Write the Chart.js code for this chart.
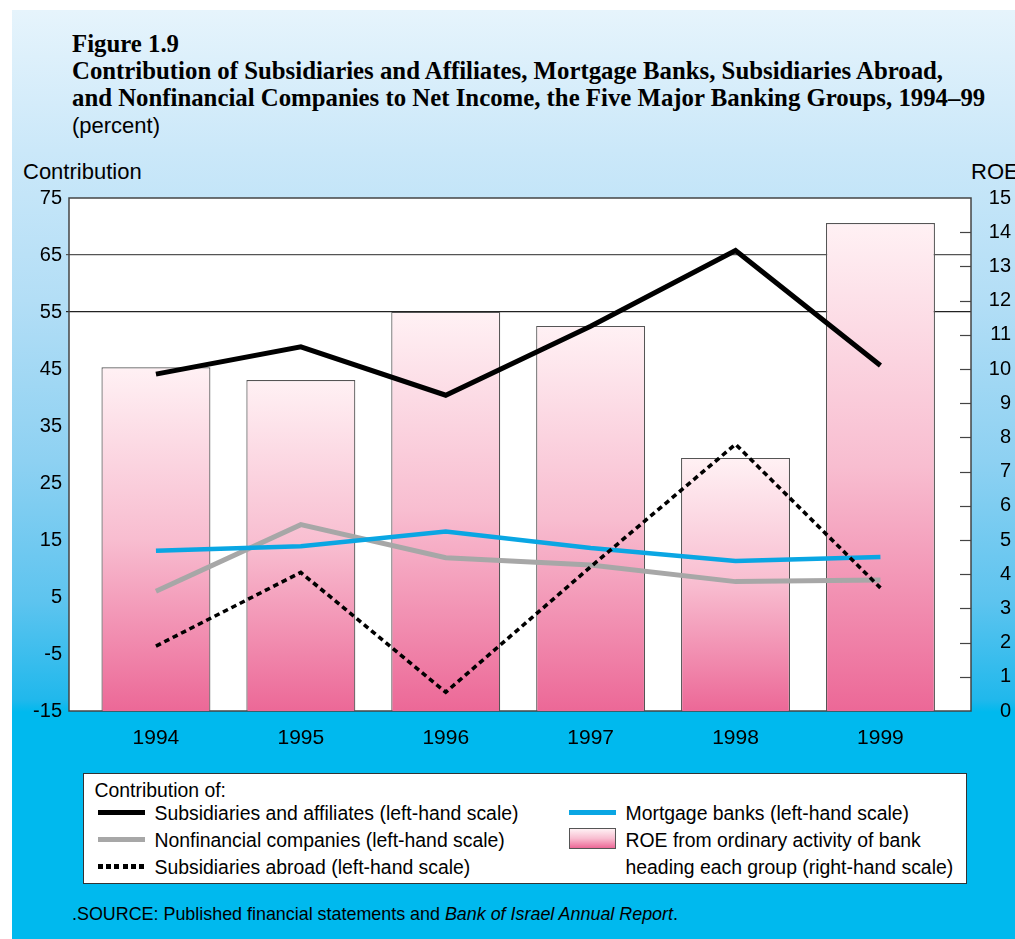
<!DOCTYPE html>
<html>
<head>
<meta charset="utf-8">
<script src="https://cdn.jsdelivr.net/npm/chart.js@4/dist/chart.umd.min.js"></script>
<style>
    body { margin: 0; background: #ffffff; }
    #page { position: relative; width: 1015px; height: 939px; overflow: hidden; font-family: "Liberation Sans", Arial, sans-serif; }
    #panel {
        position: absolute; left: 12px; top: 10px; right: 0; bottom: 0;
        background: linear-gradient(to bottom, #e6f4fc 0px, #cbe8f9 140px, #b3def6 290px, #8ed1f2 450px, #5ec4ef 590px, #20b8ec 690px, #00b9ee 702px, #00b9ee 100%);
    }
    .txt { position: absolute; white-space: nowrap; color: #000; }
    #title { left: 72px; top: 30px; font-family: "Liberation Serif", "Times New Roman", serif; font-weight: bold; font-size: 24.8px; line-height: 27px; }
    #legend { position: absolute; left: 83px; top: 773px; width: 882px; height: 109px; background: #fff; border: 1.5px solid #333; }
    .sw { position: absolute; }
</style>
</head>
<body>
<div id="page">
    <div id="panel"></div>
    <div id="title" class="txt">Figure 1.9<br>Contribution of Subsidiaries and Affiliates, Mortgage Banks, Subsidiaries Abroad,<br>and Nonfinancial Companies to Net Income, the Five Major Banking Groups, 1994–99</div>
    <div class="txt" style="left:72px; top:115px; font-size:22px; line-height:22px;">(percent)</div>
    <div class="txt" style="left:23px; top:161px; font-size:22px; line-height:22px;">Contribution</div>
    <div class="txt" style="left:971px; top:161px; font-size:22px; line-height:22px;">ROE</div>
    <canvas id="chart" width="1015" height="761" style="position:absolute; left:0; top:0;"></canvas>
    <div id="legend"></div>
    <div class="txt" style="left:72px; top:904px; font-size:17.9px; line-height:20px;">.SOURCE: Published financial statements and <i>Bank of Israel Annual Report</i>.</div>
</div>
<script>
var years = ['1994', '1995', '1996', '1997', '1998', '1999'];
// left-hand scale, contribution (percent)
var subsidiariesAffiliates = [44.1, 48.9, 40.4, 52.5, 65.8, 45.6];
var mortgageBanks = [13.1, 13.9, 16.5, 13.6, 11.3, 12.0];
var nonfinancialCompanies = [6.0, 17.7, 11.9, 10.6, 7.7, 8.0];
var subsidiariesAbroad = [-3.6, 9.3, -11.7, 10.3, 31.8, 6.6];
// right-hand scale, ROE of bank heading each group
var roe = [10.05, 9.68, 11.67, 11.26, 7.40, 14.27];
var leftTicks = [-15, -5, 5, 15, 25, 35, 45, 55, 65, 75];
var rightTicks = [0, 1, 2, 3, 4, 5, 6, 7, 8, 9, 10, 11, 12, 13, 14, 15];

function points(values) {
    return values.map(function (v, i) { return { x: i, y: v }; });
}

function barGradient(ctx) {
    var chart = ctx.chart;
    var area = chart.chartArea;
    if (!area || ctx.type !== 'data') {
        return '#f5a9c3';
    }
    var top = chart.scales.roe.getPixelForValue(ctx.parsed.y);
    var g = chart.ctx.createLinearGradient(0, top, 0, area.bottom);
    g.addColorStop(0, '#fff1f4');
    g.addColorStop(0.5, '#f8bdd0');
    g.addColorStop(1, '#ec6897');
    return g;
}

var plotFrame = {
    id: 'plotFrame',
    beforeDraw: function (chart) {
        var a = chart.chartArea, c = chart.ctx;
        c.save();
        c.fillStyle = '#ffffff';
        c.fillRect(a.left, a.top, a.right - a.left, a.bottom - a.top);
        c.restore();
    },
    beforeDatasetsDraw: function (chart) {
        var a = chart.chartArea, c = chart.ctx, s = chart.scales.roe;
        c.save();
        c.strokeStyle = '#444';
        c.lineWidth = 1.5;
        c.strokeRect(a.left, a.top, a.right - a.left, a.bottom - a.top);
        // right-hand scale tick marks point into the plot
        c.lineWidth = 1.2;
        rightTicks.forEach(function (t) {
            if (t === 0 || t === 15) return;
            var y = Math.round(s.getPixelForValue(t)) + 0.5;
            c.beginPath();
            c.moveTo(a.right - 11, y);
            c.lineTo(a.right, y);
            c.stroke();
        });
        c.restore();
    }
};

var ctx = document.getElementById('chart').getContext('2d');
var myChart = new Chart(ctx, {
    data: {
        datasets: [{
            type: 'line',
            label: 'Subsidiaries and affiliates (left-hand scale)',
            data: points(subsidiariesAffiliates),
            yAxisID: 'y',
            borderColor: '#000000',
            borderWidth: 5,
            borderJoinStyle: 'miter',
            pointRadius: 0,
            order: 0
        },
        {
            type: 'line',
            label: 'Subsidiaries abroad (left-hand scale)',
            data: points(subsidiariesAbroad),
            yAxisID: 'y',
            borderColor: '#000000',
            borderWidth: 3.6,
            borderDash: [5.5, 3.9],
            borderJoinStyle: 'miter',
            pointRadius: 0,
            order: 1
        },
        {
            type: 'line',
            label: 'Mortgage banks (left-hand scale)',
            data: points(mortgageBanks),
            yAxisID: 'y',
            borderColor: '#0aa6e3',
            borderWidth: 4.5,
            borderJoinStyle: 'miter',
            pointRadius: 0,
            order: 2
        },
        {
            type: 'line',
            label: 'Nonfinancial companies (left-hand scale)',
            data: points(nonfinancialCompanies),
            yAxisID: 'y',
            borderColor: '#a7a7a7',
            borderWidth: 5,
            borderJoinStyle: 'miter',
            pointRadius: 0,
            order: 3
        },
        {
            type: 'bar',
            label: 'ROE from ordinary activity of bank heading each group (right-hand scale)',
            data: points(roe),
            yAxisID: 'roe',
            backgroundColor: barGradient,
            borderColor: '#555555',
            borderWidth: 1.2,
            borderSkipped: 'bottom',
            barPercentage: 0.752,
            categoryPercentage: 1,
            order: 10
        }]
    },
    options: {
        responsive: false,
        animation: false,
        devicePixelRatio: 1,
        layout: { padding: { top: 198, left: 0, right: 4, bottom: 0 } },
        plugins: {
            legend: { display: false },
            tooltip: { enabled: false }
        },
        scales: {
            x: {
                type: 'linear',
                offset: false,
                min: -0.6,
                max: 5.625,
                afterBuildTicks: function (scale) {
                    scale.ticks = years.map(function (y, i) { return { value: i }; });
                },
                afterFit: function (scale) { scale.height = 50; },
                grid: { display: false, drawTicks: false, offset: false },
                border: { display: false },
                ticks: {
                    padding: 15,
                    color: '#000',
                    font: { family: 'Liberation Sans', size: 21 },
                    callback: function (v) { return years[v]; }
                }
            },
            y: {
                position: 'left',
                min: leftTicks[0],
                max: leftTicks[leftTicks.length - 1],
                afterBuildTicks: function (scale) {
                    scale.ticks = leftTicks.map(function (t) { return { value: t }; });
                },
                afterFit: function (scale) { scale.width = 69; },
                border: { display: false },
                grid: {
                    tickLength: 3,
                    lineWidth: 1.2,
                    color: function (c) {
                        if (c.tick && c.tick.value === 55) return '#222';
                        if (c.tick && c.tick.value === 65) return '#555';
                        return 'rgba(0,0,0,0)';
                    }
                },
                ticks: {
                    padding: 4,
                    color: '#000',
                    font: { family: 'Liberation Sans', size: 20 }
                }
            },
            roe: {
                position: 'right',
                min: rightTicks[0],
                max: rightTicks[rightTicks.length - 1],
                afterBuildTicks: function (scale) {
                    scale.ticks = rightTicks.map(function (t) { return { value: t }; });
                },
                afterFit: function (scale) { scale.width = 40; },
                border: { display: false },
                grid: { display: false, drawTicks: false },
                ticks: {
                    padding: 12,
                    crossAlign: 'far',
                    color: '#000',
                    font: { family: 'Liberation Sans', size: 20 }
                }
            }
        }
    },
    plugins: [plotFrame]
});

// legend laid out like the printed key, two columns under a heading
function legendBox() {
    var box = document.getElementById('legend');
    var ox = 83, oy = 773;
    var items = [
        { text: 'Contribution of:', x: 95, y: 790 },
        { text: 'Subsidiaries and affiliates (left-hand scale)', x: 155, y: 813, line: '#000', h: 5 },
        { text: 'Nonfinancial companies (left-hand scale)', x: 155, y: 840, line: '#a7a7a7', h: 5 },
        { text: 'Subsidiaries abroad (left-hand scale)', x: 155, y: 867, line: 'repeating-linear-gradient(to right, #000 0 5px, transparent 5px 8.2px)', h: 4.5 },
        { text: 'Mortgage banks (left-hand scale)', x: 626, y: 813, line: '#0aa6e3', h: 4.5 },
        { text: 'ROE from ordinary activity of bank', x: 626, y: 840, rect: true },
        { text: 'heading each group (right-hand scale)', x: 626, y: 867 }
    ];
    items.forEach(function (it) {
        var t = document.createElement('div');
        t.className = 'txt';
        t.textContent = it.text;
        t.style.left = (it.x - ox - 1.5) + 'px';
        t.style.top = (it.y - oy - 12) + 'px';
        t.style.fontSize = '19.4px';
        t.style.lineHeight = '22px';
        box.appendChild(t);
        var sx = it.x < 400 ? 98 : 569;
        if (it.line) {
            var l = document.createElement('div');
            l.className = 'sw';
            l.style.left = (sx - ox - 1.5) + 'px';
            l.style.width = '47px';
            l.style.top = (it.y - oy - 1.5 - it.h / 2) + 'px';
            l.style.height = it.h + 'px';
            l.style.background = it.line;
            box.appendChild(l);
        }
        if (it.rect) {
            var r = document.createElement('div');
            r.className = 'sw';
            r.style.left = (sx - ox - 1.5) + 'px';
            r.style.top = (828 - oy - 1.5) + 'px';
            r.style.width = '45px';
            r.style.height = '19px';
            r.style.border = '1px solid #555';
            r.style.background = 'linear-gradient(to bottom, #fff1f4, #f8bdd0 50%, #ec6897)';
            box.appendChild(r);
        }
    });
}
legendBox();
</script>
</body>
</html>
